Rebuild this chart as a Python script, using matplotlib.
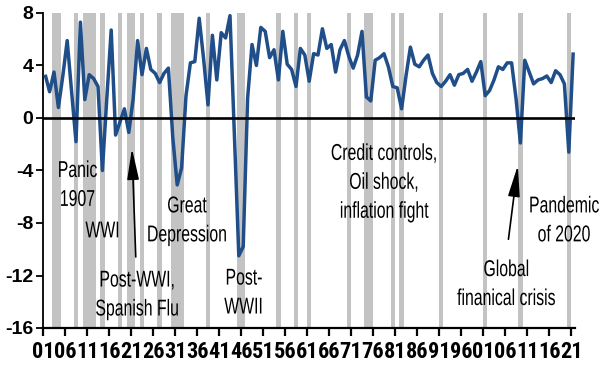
import os
import matplotlib
matplotlib.use("Agg")
import matplotlib.pyplot as plt
from matplotlib import font_manager as fm
from matplotlib.patches import FancyArrowPatch
from matplotlib.patheffects import AbstractPathEffect
from matplotlib.transforms import Affine2D

# ---------------- data ----------------
years = list(range(1901, 2022))
growth = [
    3.3, 2.0, 3.5, 0.8, 3.2, 5.9, 2.0, -1.8, 7.3, 1.4,      # 1901-1910
    3.3, 3.0, 2.4, -4.0, 1.5, 6.7, -1.3, -0.3, 0.7, -1.1,   # 1911-1920
    1.5, 5.9, 3.3, 5.3, 3.7, 3.4, 2.7, 3.4, 3.8, -1.5,      # 1921-1930
    -5.1, -3.8, 1.7, 4.2, 4.3, 7.6, 4.5, 1.0, 6.3, 2.9,     # 1931-1940
    6.5, 6.1, 7.8, -1.3, -10.5, -9.8, 1.5, 5.6, 4.0, 6.9,   # 1941-1950
    6.6, 4.6, 5.2, 2.9, 6.6, 4.1, 3.7, 2.4, 5.3, 4.8,       # 1951-1960
    2.8, 4.9, 4.8, 6.8, 5.3, 5.6, 3.5, 5.2, 5.9, 4.7,       # 1961-1970
    3.8, 4.8, 6.6, 1.6, 1.3, 4.4, 4.6, 4.9, 3.9, 2.4,       # 1971-1980
    2.3, 0.7, 3.2, 5.4, 4.1, 3.9, 4.4, 4.8, 3.4, 2.7,       # 1981-1990
    2.4, 2.8, 3.3, 2.5, 3.3, 3.4, 3.7, 2.8, 3.5, 4.3,       # 1991-2000
    1.7, 2.1, 2.9, 3.9, 3.7, 4.2, 4.2, 1.5, -1.9, 4.4,      # 2001-2010
    3.5, 2.6, 2.9, 3.0, 3.2, 2.7, 3.6, 3.3, 2.6, -2.6,      # 2011-2020
    5.0,                                                    # 2021
]
recession_years = [1903, 1904, 1908, 1910, 1911, 1912, 1914, 1918, 1920, 1921,
                   1923, 1927, 1930, 1931, 1932, 1938, 1945, 1946, 1954, 1958,
                   1961, 1970, 1974, 1975, 1980, 1982, 1991, 2001, 2009, 2020]
tick_years = list(range(1901, 2022, 5))
tick_labels = ["01", "06", "11", "16", "21", "26", "31", "36", "41", "46", "51",
               "56", "61", "66", "71", "76", "81", "86", "91", "96", "01", "06",
               "11", "16", "21"]
y_ticks = [-16, -12, -8, -4, 0, 4, 8]
y_labels = ["-16", "-12", "-8", "-4", "0", "4", "8"]

annotations = [
    ("Panic\n1907", 1908.8, -5.1),
    ("WWI", 1914.6, -8.6),
    ("Post-WWI,\nSpanish Flu", 1922.4, -13.45),
    ("Great\nDepression", 1933.7, -7.8),
    ("Post-\nWWII", 1946.65, -13.3),
    ("Credit controls,\nOil shock,\ninflation fight", 1978.5, -4.9),
    ("Global\nfinanical crisis", 2006.3, -12.65),
    ("Pandemic\nof 2020", 2019.4, -7.8),
]
arrows = [
    ((1922.1, -10.8), (1921.2, -2.1)),
    ((2006.7, -9.45), (2009.0, -3.4)),
]

# ---------------- fonts ----------------
files = {os.path.basename(f.fname).lower(): f.fname for f in fm.fontManager.ttflist}


def pick(cands):
    for c in cands:
        for k, v in files.items():
            if k.startswith(c):
                return v
    return None


bold_file = pick(["robotocondensed-bold", "liberationsansnarrow-bold.",
                  "notosans-condensedbold", "dejavusanscondensed-bold"])
xt_fp = (fm.FontProperties(fname=bold_file, size=16) if bold_file else
         fm.FontProperties(family="DejaVu Sans", weight="bold", size=12))


class SqueezeX(AbstractPathEffect):
    """Draw text glyphs horizontally condensed around each line's centre."""

    def __init__(self, sx):
        super().__init__()
        self.sx = sx

    def draw_path(self, renderer, gc, tpath, affine, rgbFace=None):
        bb = tpath.get_extents(affine)
        cx = 0.5 * (bb.x0 + bb.x1)
        aff = affine + Affine2D().translate(-cx, 0).scale(self.sx, 1).translate(cx, 0)
        renderer.draw_path(gc, tpath, aff, rgbFace)


# ---------------- figure ----------------
fig = plt.figure(figsize=(6.02, 3.78), dpi=100)
ax = fig.add_axes([43 / 602, 1 - 328 / 378, (575.4 - 43) / 602, (328 - 13) / 378])

for y in recession_years:
    ax.axvspan(y, y + 1, color="#c3c3c3", lw=0, zorder=1)

x_mid = [y + 0.5 for y in years]
ax.plot(x_mid, growth, color="#1f4e89", lw=2.5, solid_joinstyle="round",
        solid_capstyle="butt", zorder=3)
ax.axhline(0, color="black", lw=1.9, zorder=4)

ax.set_xlim(1901, 2022)
ax.set_ylim(-16, 8)

for s in ["top", "right"]:
    ax.spines[s].set_visible(False)
ax.spines["left"].set_linewidth(1.3)
ax.spines["bottom"].set_linewidth(1.6)

ax.set_xticks(tick_years)
ax.set_xticklabels(tick_labels, fontproperties=xt_fp)
ax.set_yticks(y_ticks)
ax.set_yticklabels(y_labels, fontfamily="Liberation Sans", fontweight="bold", fontsize=14)
ax.tick_params(axis="x", length=6, width=1.6, pad=3, direction="out")
ax.tick_params(axis="y", length=5, width=1.3, pad=2, direction="out")

for txt, x, y in annotations:
    ax.text(x, y, txt, ha="center", va="center", fontfamily="Liberation Sans",
            fontsize=16.5, linespacing=1.33, color="black", zorder=5,
            path_effects=[SqueezeX(0.69)])

for (x0, y0), (x1, y1) in arrows:
    arr = FancyArrowPatch((x0, y0), (x1, y1),
                          arrowstyle="-|>,head_length=0.95,head_width=0.18",
                          mutation_scale=20, color="black", lw=1.2, zorder=5)
    ax.add_patch(arr)

fig.savefig("out.png", dpi=100)
